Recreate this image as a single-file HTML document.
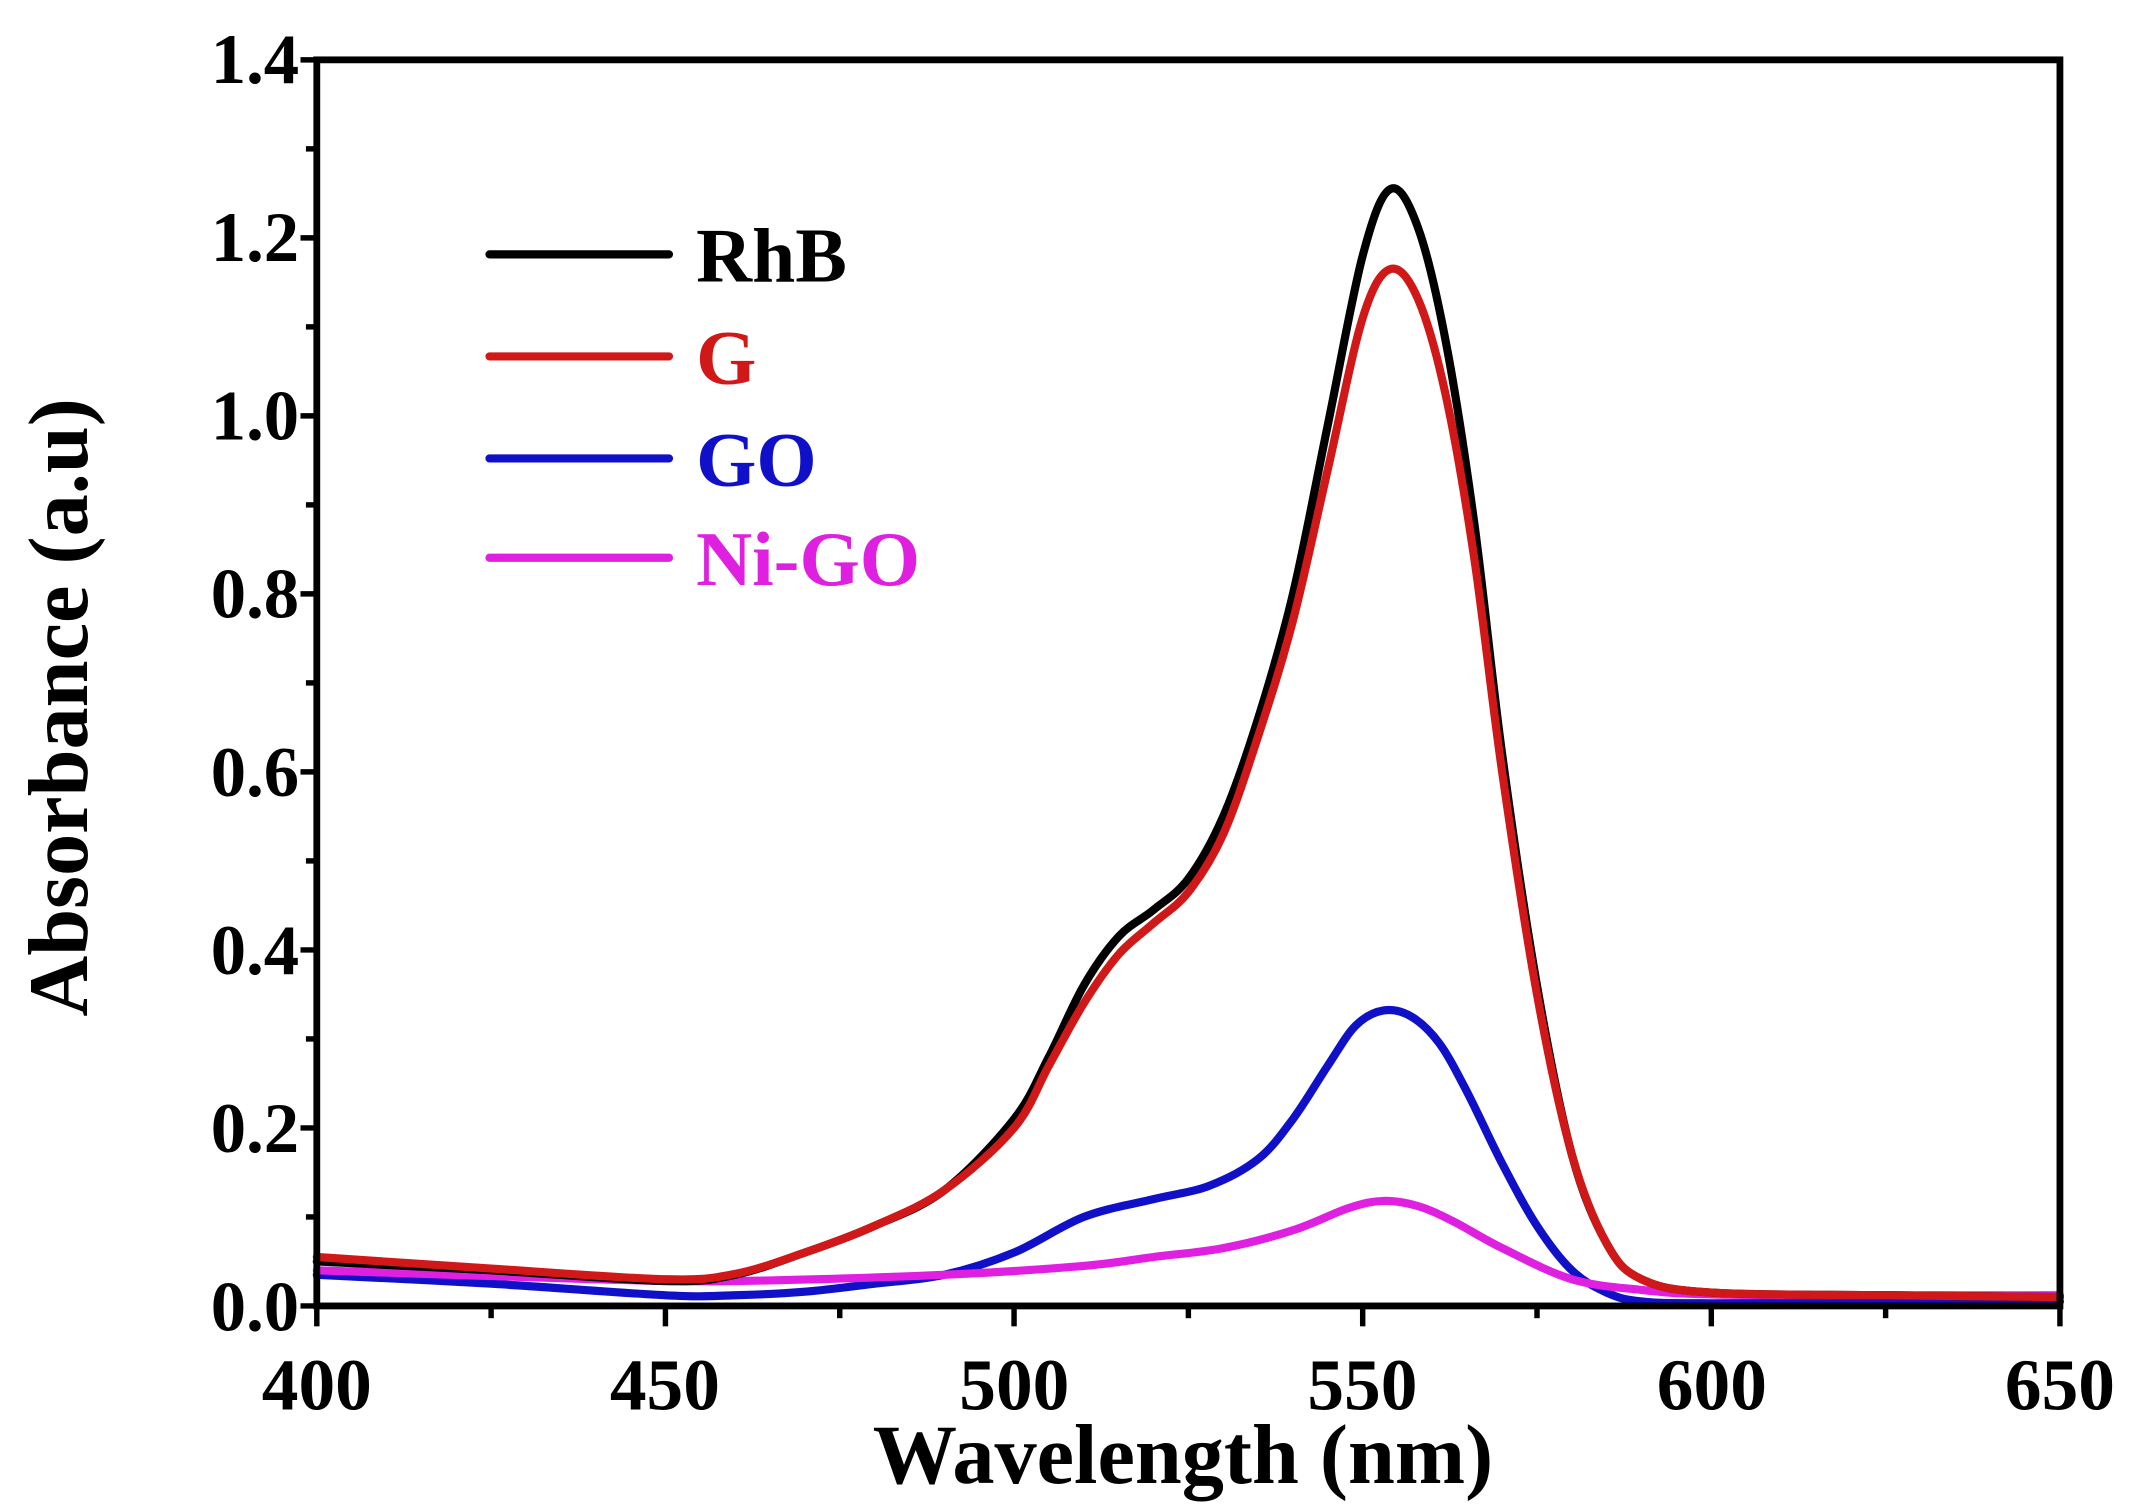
<!DOCTYPE html>
<html><head><meta charset="utf-8"><style>html,body{margin:0;padding:0;background:#fff}svg{display:block}</style></head>
<body>
<svg id="s" width="2132" height="1510" viewBox="0 0 1568 1110" preserveAspectRatio="none" xmlns="http://www.w3.org/2000/svg" font-family="Liberation Serif, serif" font-weight="bold">
<rect width="1568" height="1110" fill="#fff"/>
<g id="curves" fill="none" stroke-width="6" stroke-linejoin="round" stroke-linecap="round"></g>
<rect x="233" y="44" width="1282" height="916" fill="none" stroke="#000" stroke-width="5"/>
<g id="ticks" stroke="#000" stroke-width="4"></g>
<g font-size="52" text-anchor="end">
<text x="220" y="978">0.0</text><text x="220" y="847">0.2</text><text x="220" y="716">0.4</text><text x="220" y="585">0.6</text><text x="220" y="454">0.8</text><text x="220" y="323">1.0</text><text x="220" y="192">1.2</text><text x="220" y="61">1.4</text>
</g>
<g font-size="54" text-anchor="middle">
<text x="233" y="1036">400</text><text x="489" y="1036">450</text><text x="746" y="1036">500</text><text x="1002" y="1036">550</text><text x="1259" y="1036">600</text><text x="1515" y="1036">650</text>
<text x="870" y="1090" font-size="62">Wavelength (nm)</text>
<text transform="translate(64,520) rotate(-90)" font-size="62">Absorbance (a.u)</text>
</g>
<g stroke-width="6" stroke-linecap="round">
<line x1="360" y1="187" x2="492" y2="187" stroke="#000"/>
<line x1="360" y1="262" x2="492" y2="262" stroke="#d01818"/>
<line x1="360" y1="337" x2="492" y2="337" stroke="#1010c8"/>
<line x1="360" y1="410" x2="492" y2="410" stroke="#e020e0"/>
</g>
<g font-size="57">
<text x="512" y="207" fill="#000">RhB</text>
<text x="512" y="282" fill="#d01818">G</text>
<text x="512" y="357" fill="#1010c8">GO</text>
<text x="512" y="430" fill="#e020e0">Ni-GO</text>
</g>
</svg>
<script>
var X=function(w){return 233+(w-400)*1282/250},Y=function(a){return 960-a*916/1.4};
var data={
"#000":[[400,.05],[425,.04],[450,.028],[460,.035],[470,.06],[480,.09],[490,.13],[500,.21],[505,.28],[510,.36],[515,.415],[520,.445],[525,.48],[530,.55],[535,.66],[540,.8],[545,.99],[550,1.18],[554,1.255],[558,1.21],[562,1.08],[566,.88],[570,.62],[575,.36],[580,.17],[585,.07],[590,.03],[600,.015],[625,.012],[650,.01]],
"#d01818":[[400,.055],[425,.042],[450,.03],[460,.036],[470,.06],[480,.09],[490,.13],[500,.2],[505,.27],[510,.34],[515,.395],[520,.43],[525,.465],[530,.53],[535,.64],[540,.77],[545,.94],[550,1.11],[554,1.165],[558,1.13],[562,1.02],[566,.84],[570,.6],[575,.35],[580,.17],[585,.07],[590,.03],[600,.015],[625,.012],[650,.01]],
"#1010c8":[[400,.035],[425,.025],[450,.012],[460,.012],[470,.016],[480,.025],[490,.035],[500,.06],[510,.1],[520,.12],[528,.135],[535,.165],[540,.21],[545,.27],[549,.315],[553,.332],[557,.325],[561,.295],[565,.24],[570,.16],[575,.09],[580,.04],[585,.015],[590,.005],[600,.003],[625,.004],[650,.005]],
"#e020e0":[[400,.04],[440,.03],[460,.028],[490,.035],[510,.045],[520,.055],[530,.065],[540,.085],[548,.11],[553,.118],[558,.112],[563,.095],[570,.065],[580,.03],[590,.018],[600,.013],[625,.012],[650,.012]]};
var g=document.getElementById('curves'),ns="http://www.w3.org/2000/svg";
var order=["#1010c8","#e020e0","#000","#d01818"];
order.forEach(function(c){var p=data[c].map(function(q){return[X(q[0]),Y(q[1])]});
var d="M"+p[0][0]+","+p[0][1];
for(var i=0;i<p.length-1;i++){var p0=p[i-1]||p[i],p1=p[i],p2=p[i+1],p3=p[i+2]||p2;
d+=" C"+(p1[0]+(p2[0]-p0[0])/6)+","+(p1[1]+(p2[1]-p0[1])/6)+" "+(p2[0]-(p3[0]-p1[0])/6)+","+(p2[1]-(p3[1]-p1[1])/6)+" "+p2[0]+","+p2[1];}
var e=document.createElementNS(ns,"path");e.setAttribute("d",d);e.setAttribute("stroke",c);g.appendChild(e);});
var t=document.getElementById('ticks'),s="";
for(var i=0;i<=10;i++){var x=233+i*1282/10,L=i%2?9:15;s+='<line x1="'+x+'" y1="960" x2="'+x+'" y2="'+(960+L)+'"/>';}
for(var j=0;j<=14;j++){var y=960-j*916/14,L=j%2?8:12;s+='<line x1="233" y1="'+y+'" x2="'+(233-L)+'" y2="'+y+'"/>';}
t.innerHTML=s;
</script>
</body></html>
